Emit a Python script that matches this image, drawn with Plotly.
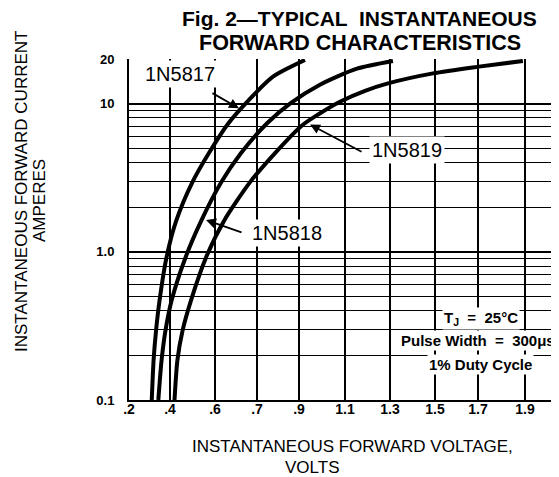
import numpy as np
import plotly.graph_objects as go

# ---- data (volts, amperes) ----
V_1N5817 = [0.311, 0.320, 0.332, 0.349, 0.383, 0.427, 0.498, 0.573, 0.632, 0.681, 0.776, 0.926]
I_1N5817 = [0.10, 0.186, 0.295, 0.469, 0.916, 1.61, 2.92, 4.64, 7.37, 10.6, 15.2, 19.7]

V_1N5818 = [0.343, 0.359, 0.378, 0.407, 0.469, 0.538, 0.614, 0.662, 0.748, 0.857, 0.991, 1.153, 1.313]
I_1N5818 = [0.10, 0.186, 0.295, 0.469, 0.916, 1.61, 2.92, 4.64, 7.37, 10.0, 13.4, 17.2, 19.4]

V_1N5819 = [0.420, 0.433, 0.456, 0.493, 0.560, 0.621, 0.683, 0.786, 0.913, 0.983, 1.078, 1.189, 1.291, 1.491, 1.695, 1.891]
I_1N5819 = [0.10, 0.186, 0.295, 0.469, 0.916, 1.61, 2.94, 4.64, 7.12, 8.44, 10.3, 12.2, 13.7, 16.0, 17.7, 19.4]

# x-axis tick labels (the printed scale is non-uniform)
TICK_V = [0.2, 0.4, 0.6, 0.7, 0.9, 1.1, 1.3, 1.5, 1.7, 1.9]
TICK_TEXT = [".2", ".4", ".6", ".7", ".9", "1.1", "1.3", "1.5", "1.7", "1.9"]
Y_TICKS = [0.1, 1, 10, 20]
Y_TICK_TEXT = ["0.1", "1.0", "10", "20"]

# layout: position of each printed gridline along the x axis
GRID_POS = [0, 0.932, 1.955, 2.909, 3.864, 4.909, 5.932, 6.955, 7.932, 9.0]
X_MAX = 430 / 44


def xpos(v):
    return np.interp(v, TICK_V, GRID_POS)


def px(x):  # pixel column -> paper x
    return (x - 129) / 430


def py(y):  # pixel row -> paper y
    return (400 - y) / 341


FONT = "Liberation Sans, Arial, Helvetica, sans-serif"
fig = go.Figure()
for V, I in [(V_1N5817, I_1N5817), (V_1N5818, I_1N5818), (V_1N5819, I_1N5819)]:
    fig.add_trace(go.Scatter(x=xpos(V), y=I, mode="lines",
                             line=dict(color="black", width=4, shape="spline", smoothing=0.7),
                             showlegend=False, hoverinfo="skip"))

# page body adds 8px; figure is sized so the plot lands at the reference position
fig.update_layout(
    width=551, height=469,
    margin=dict(l=121, r=0, t=51, b=77),
    paper_bgcolor="white", plot_bgcolor="white",
    font=dict(family=FONT, color="black"),
    xaxis=dict(range=[0, X_MAX], tickvals=GRID_POS, ticktext=TICK_TEXT,
               showgrid=True, gridcolor="black", gridwidth=1.6, zeroline=False,
               showline=True, linecolor="black", linewidth=2, ticks="",
               ticklabelstandoff=-5,
               tickfont=dict(size=14, family=FONT, weight="bold")),
    yaxis=dict(type="log", range=[-1, np.log10(20)], tickvals=Y_TICKS, ticktext=Y_TICK_TEXT,
               showgrid=True, gridcolor="black", gridwidth=1.6, zeroline=False,
               showline=True, linecolor="black", linewidth=2, ticks="",
               ticklabelstandoff=10,
               tickfont=dict(size=13, family=FONT, weight="bold"),
               minor=dict(tickvals=[0.2, 0.3, 0.4, 0.5, 0.6, 0.7, 0.8, 0.9, 2, 3, 4, 5, 6, 7, 8, 9],
                          showgrid=True, gridcolor="black", gridwidth=1.4, ticks="")),
    # the top frame line stops at the 1.9 gridline
    shapes=[dict(type="line", xref="x", yref="paper", x0=GRID_POS[-1] + 0.04, x1=X_MAX,
                 y0=1, y1=1, line=dict(color="white", width=4), layer="above")],
)

ann = []


def text_ann(text, x, y, size, bold=False, angle=0, bg=None, pad=1):
    d = dict(text=("<b>%s</b>" % text) if bold else text, x=px(x), y=py(y),
             xref="paper", yref="paper", xanchor="center", yanchor="middle",
             showarrow=False, textangle=angle, font=dict(size=size, family=FONT))
    if bg:
        d.update(bgcolor=bg, borderpad=pad)
    ann.append(d)


# titles
text_ann("Fig. 2—TYPICAL  INSTANTANEOUS", 359, 18, 21, bold=True)
text_ann("FORWARD CHARACTERISTICS", 360, 43, 21.5, bold=True)
text_ann("INSTANTANEOUS FORWARD VOLTAGE,", 352, 447, 17)
text_ann("VOLTS", 312, 467, 17)
text_ann("INSTANTANEOUS FORWARD CURRENT", 21, 192, 17, angle=-90)
text_ann("AMPERES", 39, 201, 17, angle=-90)

# curve labels (white background masks the grid)
text_ann("1N5817", 180, 74, 20, bg="white", pad=2)
text_ann("1N5818", 287, 233, 20, bg="white", pad=2)
text_ann("1N5819", 407, 150, 20, bg="white", pad=2)

# arrows (tip at the curve, tail at the label)
for v, i, ax, ay in [(0.657, 9.3, -28, -16), (0.56, 1.64, 37, 13), (0.948, 7.23, 53, 28)]:
    ann.append(dict(text="", x=float(xpos(v)), y=float(np.log10(i)), xref="x", yref="y",
                    showarrow=True, ax=ax, ay=ay, arrowhead=2, arrowsize=1.1, arrowwidth=1.8,
                    arrowcolor="black"))

# test conditions
text_ann("T<sub>J</sub>  =  25°C", 481, 318, 15, bold=True, bg="white")
text_ann("Pulse Width  =  300μs", 478, 340, 15, bold=True, bg="white")
text_ann("1% Duty Cycle", 480, 364, 15, bold=True, bg="white")

fig.update_layout(annotations=ann)
fig.write_html("out.html")
